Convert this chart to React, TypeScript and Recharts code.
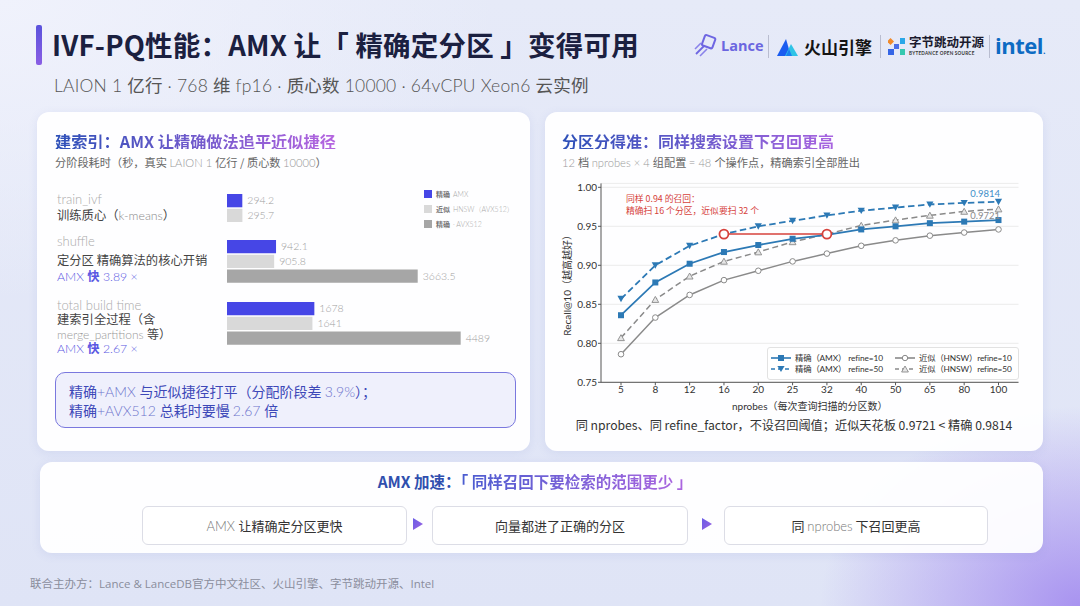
import React from 'react';
import {
  BarChart, Bar, XAxis, YAxis, LabelList, Cell,
  LineChart, Line, CartesianGrid, ReferenceLine, ReferenceDot,
} from 'recharts';

// ---------------- data ----------------
const stageNames = ['train_ivf', 'shuffle', 'total build time'];
const amxSeconds = [294.2, 942.1, 1678];
const hnswSeconds = [295.7, 905.8, 1641];
const avx512Seconds: (number | null)[] = [null, 3663.5, 4489];
const barSeriesNames = ['精确 AMX', '近似 HNSW（AVX512）', '精确 · AVX512'];

const nprobes = ['5', '8', '12', '16', '20', '25', '32', '40', '50', '65', '80', '100'];
const amxRefine10 = [0.836, 0.878, 0.902, 0.917, 0.926, 0.934, 0.939, 0.946, 0.950, 0.954, 0.956, 0.958];
const amxRefine50 = [0.857, 0.900, 0.925, 0.940, 0.950, 0.957, 0.964, 0.970, 0.974, 0.978, 0.980, 0.9814];
const hnswRefine10 = [0.786, 0.833, 0.862, 0.881, 0.893, 0.905, 0.915, 0.925, 0.932, 0.938, 0.942, 0.946];
const hnswRefine50 = [0.807, 0.856, 0.886, 0.905, 0.917, 0.930, 0.940, 0.951, 0.958, 0.964, 0.969, 0.9721];
const recallTicks = [0.75, 0.80, 0.85, 0.90, 0.95, 1.00];
const annotRecall = 0.94;
const annotExactNprobes = '16';
const annotApproxNprobes = '32';

// ---------------- styles ----------------
const FONT = "Lato, 'Noto Sans CJK SC', sans-serif";
const CJK = "'Noto Sans CJK SC', Lato, sans-serif";
const BAR_COLORS = ['#4646e6', '#d9d9d9', '#a6a6a6'];
const BLUE = '#2c79b5';
const GRAY = '#8a8a8a';
const RED = '#d6423c';
const BAR_DOMAIN_MAX = 5763;

type Row = { name: string; value: number; series: number };
const stageRows = (i: number): Row[] => {
  const rows: Row[] = [
    { name: 'amx', value: amxSeconds[i], series: 0 },
    { name: 'hnsw', value: hnswSeconds[i], series: 1 },
  ];
  const a = avx512Seconds[i];
  if (a !== null) rows.push({ name: 'avx512', value: a, series: 2 });
  return rows;
};

const recallRows = nprobes.map((n, i) => ({
  nprobes: n,
  amx10: amxRefine10[i],
  amx50: amxRefine50[i],
  hnsw10: hnswRefine10[i],
  hnsw50: hnswRefine50[i],
}));

const Txt = ({ x, cy, fs, children, style }: any) => (
  <div
    style={{
      position: 'absolute', left: x, top: cy - fs * 0.5, fontSize: fs,
      lineHeight: `${fs}px`, whiteSpace: 'nowrap', fontFamily: FONT, ...style,
    }}
  >
    {children}
  </div>
);

const gradText = (from: string, to: string): React.CSSProperties => ({
  background: `linear-gradient(90deg, ${from}, ${to})`,
  WebkitBackgroundClip: 'text',
  backgroundClip: 'text',
  color: 'transparent',
});

const card: React.CSSProperties = {
  position: 'absolute',
  background: 'rgba(255,255,255,0.94)',
  borderRadius: 12,
  boxShadow: '0 2px 10px rgba(110,120,200,0.12)',
};

function StageBars({ idx, top }: { idx: number; top: number }) {
  const rows = stageRows(idx);
  const h = rows.length * 14.75;
  return (
    <div style={{ position: 'absolute', left: 227, top, width: 300, height: h }}>
      <BarChart width={300} height={h} data={rows} layout="vertical"
        margin={{ top: 0, right: 0, bottom: 0, left: 0 }} barCategoryGap={0}>
        <XAxis type="number" domain={[0, BAR_DOMAIN_MAX]} hide />
        <YAxis type="category" dataKey="name" hide width={0} />
        <Bar dataKey="value" barSize={13.3} isAnimationActive={false}>
          {rows.map((r, i) => <Cell key={i} fill={BAR_COLORS[r.series]} />)}
          <LabelList dataKey="value" position="right" offset={5}
            style={{ fill: '#a0a0a0', fontSize: 10.5, fontFamily: FONT, fontWeight: 300 }} />
        </Bar>
      </BarChart>
    </div>
  );
}

const SquareDot = (p: any) => (
  <rect key={`s${p.index}`} x={p.cx - 3} y={p.cy - 3} width={6} height={6} fill={BLUE} />
);
const TriDownDot = (p: any) => (
  <polygon key={`d${p.index}`} points={`${p.cx - 3.6},${p.cy - 3} ${p.cx + 3.6},${p.cy - 3} ${p.cx},${p.cy + 3.4}`} fill={BLUE} />
);
const CircleDot = (p: any) => (
  <circle key={`c${p.index}`} cx={p.cx} cy={p.cy} r={2.8} fill="#fff" stroke={GRAY} strokeWidth={1} />
);
const TriUpDot = (p: any) => (
  <polygon key={`u${p.index}`} points={`${p.cx - 3.4},${p.cy + 2.8} ${p.cx + 3.4},${p.cy + 2.8} ${p.cx},${p.cy - 3.2}`} fill="#e6e6e6" stroke={GRAY} strokeWidth={0.9} />
);

const lastLabel = (color: string, dy: number) => (p: any) => {
  if (p.index !== nprobes.length - 1) return null;
  return (
    <text key="last" x={Number(p.x) + 1.5} y={Number(p.y) + dy} textAnchor="end" dominantBaseline="middle"
      fontSize={9.5} fontFamily={FONT} fill={color}>{String(p.value)}</text>
  );
};

const LegendSample = ({ dashed, color, marker }: any) => (
  <svg width={20} height={8} style={{ display: 'inline-block', verticalAlign: 'middle', flex: 'none' }}>
    <line x1={0} y1={4} x2={20} y2={4} stroke={color} strokeWidth={1.6} strokeDasharray={dashed ? '4 3' : undefined} />
    {marker === 'square' && <rect x={7} y={1} width={6} height={6} fill={color} />}
    {marker === 'tridown' && <polygon points="6.4,1 13.6,1 10,7" fill={color} />}
    {marker === 'circle' && <circle cx={10} cy={4} r={2.7} fill="#fff" stroke={color} strokeWidth={1} />}
    {marker === 'triup' && <polygon points="6.6,7 13.4,7 10,1" fill="#e6e6e6" stroke={color} strokeWidth={0.9} />}
  </svg>
);

function RecallChart() {
  return (
    <div style={{ position: 'absolute', left: 545, top: 170, width: 490, height: 250 }}>
      <LineChart width={490} height={250} data={recallRows}
        margin={{ top: 13.4, right: 16.5, bottom: 7.7, left: 0 }}>
        <CartesianGrid horizontal vertical={false} stroke="#ececec" strokeWidth={1} />
        <XAxis dataKey="nprobes" padding={{ left: 20, right: 20 }} height={30}
          tickSize={3} tickMargin={1} interval={0}
          stroke="#555" tick={{ fontSize: 10, fill: '#333', fontFamily: FONT }}
          label={{ value: 'nprobes（每次查询扫描的分区数）', position: 'insideBottom', offset: 2,
            style: { fontSize: 10, fill: '#333', fontFamily: FONT } }} />
        <YAxis type="number" domain={[0.75, 1.005]} ticks={recallTicks} width={56}
          tickSize={3} tickMargin={1} stroke="#555"
          tickFormatter={(v: number) => v.toFixed(2)}
          tick={{ fontSize: 10, fill: '#333', fontFamily: FONT }}
          label={{ value: 'Recall@10（越高越好）', angle: -90, position: 'insideLeft', offset: 22,
            style: { fontSize: 10, fill: '#333', fontFamily: FONT, textAnchor: 'middle' } }} />
        <Line dataKey="hnsw10" stroke={GRAY} strokeWidth={1.5} dot={CircleDot} activeDot={false} isAnimationActive={false} />
        <Line dataKey="hnsw50" stroke={GRAY} strokeWidth={1.5} strokeDasharray="6 3.5" dot={TriUpDot} activeDot={false} isAnimationActive={false}>
          <LabelList dataKey="hnsw50" content={lastLabel('#8a8a8a', 8)} />
        </Line>
        <Line dataKey="amx10" stroke={BLUE} strokeWidth={1.8} dot={SquareDot} activeDot={false} isAnimationActive={false} />
        <Line dataKey="amx50" stroke={BLUE} strokeWidth={1.8} strokeDasharray="6.5 3.5" dot={TriDownDot} activeDot={false} isAnimationActive={false}>
          <LabelList dataKey="amx50" content={lastLabel('#3d8ec8', -7)} />
        </Line>
        <ReferenceLine segment={[{ x: annotExactNprobes, y: annotRecall }, { x: annotApproxNprobes, y: annotRecall }]}
          stroke={RED} strokeWidth={1.5} />
        <ReferenceDot x={annotExactNprobes} y={annotRecall} r={4.5} fill="#fff" stroke={RED} strokeWidth={1.8} />
        <ReferenceDot x={annotApproxNprobes} y={annotRecall} r={4.5} fill="#fff" stroke={RED} strokeWidth={1.8} />
      </LineChart>
    </div>
  );
}

const Sep = ({ x }: { x: number }) => (
  <div style={{ position: 'absolute', left: x, top: 35, width: 1, height: 23, background: '#b9bdd0' }} />
);

export default function App() {
  return (
    <div style={{
      position: 'absolute', left: 0, top: 0, width: 1080, height: 606, overflow: 'hidden',
      fontFamily: FONT,
      background: 'radial-gradient(ellipse 260px 200px at 100% 100%, rgba(150,120,238,0.75), rgba(150,120,238,0) 100%), radial-gradient(ellipse 500px 300px at 0% 0%, rgba(240,242,252,1), rgba(240,242,252,0) 100%), linear-gradient(180deg, #e6eaf8 0%, #dfe4f6 100%)',
    }}>
      {/* header */}
      <div style={{ position: 'absolute', left: 36, top: 25, width: 6, height: 40, borderRadius: 2,
        background: 'linear-gradient(180deg, #5a52dc, #8a5ee4)' }} />
      <Txt x={52} cy={45} fs={27.5} style={{ fontFamily: CJK, fontWeight: 700, color: '#1b2040', letterSpacing: 0.2 }}>
        IVF-PQ性能：AMX 让「 精确定分区 」变得可用
      </Txt>
      <Txt x={54} cy={85} fs={17.5} style={{ color: '#555', letterSpacing: 0.2 }}>
        <span style={{ fontWeight: 300 }}>LAION 1 </span><span style={{ fontFamily: CJK }}>亿行</span>
        <span style={{ fontWeight: 300 }}> · 768 </span><span style={{ fontFamily: CJK }}>维</span>
        <span style={{ fontWeight: 300 }}> fp16 · </span><span style={{ fontFamily: CJK }}>质心数</span>
        <span style={{ fontWeight: 300 }}> 10000 · 64vCPU Xeon6 </span><span style={{ fontFamily: CJK }}>云实例</span>
      </Txt>

      {/* logos */}
      <svg style={{ position: 'absolute', left: 694, top: 34 }} width={24} height={24}>
        <rect x={9} y={2} width={11} height={11} rx={1.5} transform="rotate(20 14 8)" fill="none" stroke="#6e66e2" strokeWidth={2} />
        <line x1={2} y1={20} x2={10} y2={12} stroke="#6e66e2" strokeWidth={1.8} />
        <line x1={6} y1={22} x2={13} y2={15} stroke="#8a82ea" strokeWidth={1.6} />
        <line x1={1} y1={15} x2={7} y2={9} stroke="#8a82ea" strokeWidth={1.6} />
      </svg>
      <Txt x={721} cy={46} fs={14.5} style={{ fontWeight: 700, color: '#6b66e0', fontFamily: "'Open Sans', sans-serif" }}>Lance</Txt>
      <Sep x={768} />
      <svg style={{ position: 'absolute', left: 777, top: 36 }} width={22} height={22}>
        <polygon points="0,20 9,3 14,20" fill="#1a5cf0" />
        <polygon points="8,20 14,8 21,20" fill="#2ec3e6" />
        <polygon points="9,20 12,13 15,20" fill="#1a7ff0" />
      </svg>
      <Txt x={804} cy={46} fs={17} style={{ fontFamily: CJK, fontWeight: 700, color: '#141414' }}>火山引擎</Txt>
      <Sep x={880} />
      <svg style={{ position: 'absolute', left: 888, top: 37 }} width={18} height={20}>
        <rect x={0} y={2} width={5} height={5} fill="#f08a2c" transform="rotate(45 2.5 4.5)" />
        <rect x={12} y={1} width={5} height={6} fill="#2aa7e8" />
        <rect x={0} y={12} width={6} height={6} fill="#3565e6" />
        <rect x={12} y={12} width={5} height={6} fill="#35c8b0" />
        <rect x={6} y={7} width={5} height={5} fill="#4a6ee8" />
      </svg>
      <Txt x={909} cy={42.5} fs={12.5} style={{ fontFamily: CJK, fontWeight: 700, color: '#1a1a2e' }}>字节跳动开源</Txt>
      <Txt x={909} cy={53.5} fs={4.6} style={{ fontWeight: 700, color: '#333', letterSpacing: 0.25 }}>BYTEDANCE OPEN SOURCE</Txt>
      <Sep x={989} />
      <Txt x={995} cy={45} fs={22} style={{ fontFamily: "'Open Sans', sans-serif", fontWeight: 700, color: '#0d6bc3', letterSpacing: -0.5 }}>intel<span style={{ fontSize: 9 }}>.</span></Txt>

      {/* left card */}
      <div style={{ ...card, left: 37, top: 112, width: 493, height: 339 }} />
      <Txt x={55} cy={141} fs={16.2} style={{ fontFamily: CJK, fontWeight: 700, ...gradText('#2d50b8', '#b564e0') }}>
        建索引：AMX 让精确做法追平近似捷径
      </Txt>
      <Txt x={55} cy={162.5} fs={11.2} style={{ color: '#666' }}>
        <span style={{ fontFamily: CJK }}>分阶段耗时（秒，真实 </span><span style={{ fontWeight: 300, color: '#999' }}>LAION 1 </span>
        <span style={{ fontFamily: CJK }}>亿行 / 质心数 </span><span style={{ fontWeight: 300, color: '#999' }}>10000</span>
        <span style={{ fontFamily: CJK }}>）</span>
      </Txt>

      {/* stage labels */}
      <Txt x={57} cy={199.5} fs={13} style={{ color: '#aaa', fontWeight: 300 }}>{stageNames[0]}</Txt>
      <Txt x={57} cy={215} fs={12.3} style={{ color: '#444' }}>
        <span style={{ fontFamily: CJK }}>训练质心（</span><span style={{ color: '#888', fontWeight: 300 }}>k-means</span><span style={{ fontFamily: CJK }}>）</span>
      </Txt>
      <Txt x={57} cy={241.5} fs={13} style={{ color: '#aaa', fontWeight: 300 }}>{stageNames[1]}</Txt>
      <Txt x={57} cy={260} fs={12.3} style={{ color: '#444', fontFamily: CJK }}>定分区 精确算法的核心开销</Txt>
      <Txt x={57} cy={276.5} fs={12.3} style={{ color: '#5a58e2' }}>
        <span style={{ fontWeight: 300 }}>AMX </span><span style={{ fontFamily: CJK, fontWeight: 700 }}>快</span><span style={{ fontWeight: 300 }}> 3.89 ×</span>
      </Txt>
      <Txt x={57} cy={305} fs={13} style={{ color: '#aaa', fontWeight: 300 }}>{stageNames[2]}</Txt>
      <Txt x={57} cy={319.5} fs={12.3} style={{ color: '#444', fontFamily: CJK }}>建索引全过程（含</Txt>
      <Txt x={57} cy={333.5} fs={12} style={{ color: '#444' }}>
        <span style={{ color: '#999', fontWeight: 300 }}>merge_partitions </span><span style={{ fontFamily: CJK }}>等）</span>
      </Txt>
      <Txt x={57} cy={348.5} fs={12.3} style={{ color: '#5a58e2' }}>
        <span style={{ fontWeight: 300 }}>AMX </span><span style={{ fontFamily: CJK, fontWeight: 700 }}>快</span><span style={{ fontWeight: 300 }}> 2.67 ×</span>
      </Txt>

      <StageBars idx={0} top={192.6} />
      <StageBars idx={1} top={238.6} />
      <StageBars idx={2} top={301.3} />

      {/* bar legend */}
      {barSeriesNames.map((n, i) => {
        const [cn, ...rest] = n.split(' ');
        return (
          <div key={n} style={{ position: 'absolute', left: 424, top: 189 + i * 15, height: 9, display: 'flex', alignItems: 'center', whiteSpace: 'nowrap' }}>
            <div style={{ width: 8, height: 8, background: BAR_COLORS[i], marginRight: 4 }} />
            <span style={{ fontSize: 7, fontFamily: CJK, color: '#777', fontWeight: 700 }}>{cn}</span>
            <span style={{ fontSize: 7, color: '#aaa', fontWeight: 300, marginLeft: 3 }}>{rest.join(' ')}</span>
          </div>
        );
      })}

      {/* callout */}
      <div style={{ position: 'absolute', left: 55, top: 372, width: 459, height: 54, borderRadius: 10,
        border: '1.5px solid #7a78de', background: '#eff0fc' }} />
      <Txt x={69} cy={390.5} fs={14} style={{ color: '#3d48b8' }}>
        <span style={{ fontFamily: CJK }}>精确</span><span style={{ fontWeight: 300, color: '#6e74cc' }}>+AMX </span>
        <span style={{ fontFamily: CJK }}>与近似捷径打平（分配阶段差 </span><span style={{ fontWeight: 300, color: '#6e74cc' }}>3.9%</span>
        <span style={{ fontFamily: CJK }}>）；</span>
      </Txt>
      <Txt x={69} cy={410} fs={14} style={{ color: '#3d48b8' }}>
        <span style={{ fontFamily: CJK }}>精确</span><span style={{ fontWeight: 300, color: '#6e74cc' }}>+AVX512 </span>
        <span style={{ fontFamily: CJK }}>总耗时要慢 </span><span style={{ fontWeight: 300, color: '#6e74cc' }}>2.67 </span>
        <span style={{ fontFamily: CJK }}>倍</span>
      </Txt>

      {/* right card */}
      <div style={{ ...card, left: 545, top: 112, width: 498, height: 339 }} />
      <Txt x={562} cy={141} fs={16} style={{ fontFamily: CJK, fontWeight: 700, ...gradText('#2d50b8', '#a864e0') }}>
        分区分得准：同样搜索设置下召回更高
      </Txt>
      <Txt x={562} cy={162.5} fs={11.2} style={{ color: '#666' }}>
        <span style={{ fontWeight: 300, color: '#999' }}>12 </span><span style={{ fontFamily: CJK }}>档 </span>
        <span style={{ fontWeight: 300, color: '#999' }}>nprobes × 4 </span><span style={{ fontFamily: CJK }}>组配置 </span>
        <span style={{ fontWeight: 300, color: '#999' }}>= 48 </span><span style={{ fontFamily: CJK }}>个操作点，精确索引全部胜出</span>
      </Txt>

      <RecallChart />

      <Txt x={626} cy={199} fs={8.8} style={{ color: RED, fontFamily: CJK }}>同样 0.94 的召回：</Txt>
      <Txt x={626} cy={211} fs={8.8} style={{ color: RED, fontFamily: CJK }}>精确扫 16 个分区，近似要扫 32 个</Txt>

      {/* recall legend */}
      <div style={{ position: 'absolute', left: 767, top: 347, width: 250, height: 31, background: 'rgba(255,255,255,0.9)',
        border: '1px solid #e2e2e2', borderRadius: 3 }} />
      {[
        { x: 771, y: 357.5, dashed: false, color: BLUE, marker: 'square', label: '精确（AMX） refine=10' },
        { x: 771, y: 369, dashed: true, color: BLUE, marker: 'tridown', label: '精确（AMX） refine=50' },
        { x: 895, y: 357.5, dashed: false, color: GRAY, marker: 'circle', label: '近似（HNSW）refine=10' },
        { x: 895, y: 369, dashed: true, color: GRAY, marker: 'triup', label: '近似（HNSW）refine=50' },
      ].map((l) => (
        <div key={l.label} style={{ position: 'absolute', left: l.x, top: l.y - 5, height: 10, display: 'flex', alignItems: 'center', whiteSpace: 'nowrap' }}>
          <LegendSample dashed={l.dashed} color={l.color} marker={l.marker} />
          <span style={{ fontSize: 8.3, lineHeight: '10px', color: '#333', marginLeft: 4, fontFamily: FONT, letterSpacing: -0.1 }}>{l.label}</span>
        </div>
      ))}

      <Txt x={794} cy={425.5} fs={12.2} style={{ color: '#333', transform: 'translateX(-50%)' }}>
        <span style={{ fontFamily: CJK }}>同 nprobes、同 refine_factor，不设召回阈值；近似天花板 0.9721 &lt; 精确 0.9814</span>
      </Txt>

      {/* bottom card */}
      <div style={{ ...card, left: 40, top: 462, width: 1003, height: 91 }} />
      <Txt x={535} cy={482} fs={15.5} style={{ fontFamily: CJK, fontWeight: 700, transform: 'translateX(-50%)' }}>
        <span style={{ color: '#2f4fae' }}>AMX 加速：</span>
        <span style={gradText('#4a5cd0', '#b066e0')}>「 同样召回下要检索的范围更少 」</span>
      </Txt>
      {[
        { x: 142, w: 263, parts: [['AMX ', true], ['让精确定分区更快', false]] },
        { x: 432, w: 254, parts: [['向量都进了正确的分区', false]] },
        { x: 724, w: 262, parts: [['同 ', false], ['nprobes', true], [' 下召回更高', false]] },
      ].map((b, i) => (
        <div key={i} style={{ position: 'absolute', left: b.x, top: 506, width: b.w, height: 37, borderRadius: 6,
          border: '1px solid #dcdde6', background: '#fff', display: 'flex', alignItems: 'center', justifyContent: 'center',
          fontSize: 13, color: '#333', whiteSpace: 'pre' }}>
          {b.parts.map(([t, light], j) => (
            <span key={j} style={light ? { fontWeight: 300, color: '#777', fontFamily: FONT } : { fontFamily: CJK }}>{t as string}</span>
          ))}
        </div>
      ))}
      {[412, 701].map((x) => (
        <svg key={x} style={{ position: 'absolute', left: x, top: 517 }} width={12} height={14}>
          <defs>
            <linearGradient id={`ag${x}`} x1="0" y1="0" x2="1" y2="1">
              <stop offset="0" stopColor="#6a5ee6" />
              <stop offset="1" stopColor="#9a62e2" />
            </linearGradient>
          </defs>
          <polygon points="1,1 11,7 1,13" fill={`url(#ag${x})`} />
        </svg>
      ))}

      <Txt x={30} cy={584} fs={11.5} style={{ color: '#8a8d9c', fontFamily: "'Open Sans', 'Noto Sans CJK SC', sans-serif" }}>
        联合主办方：Lance &amp; LanceDB官方中文社区、火山引擎、字节跳动开源、Intel
      </Txt>
    </div>
  );
}
